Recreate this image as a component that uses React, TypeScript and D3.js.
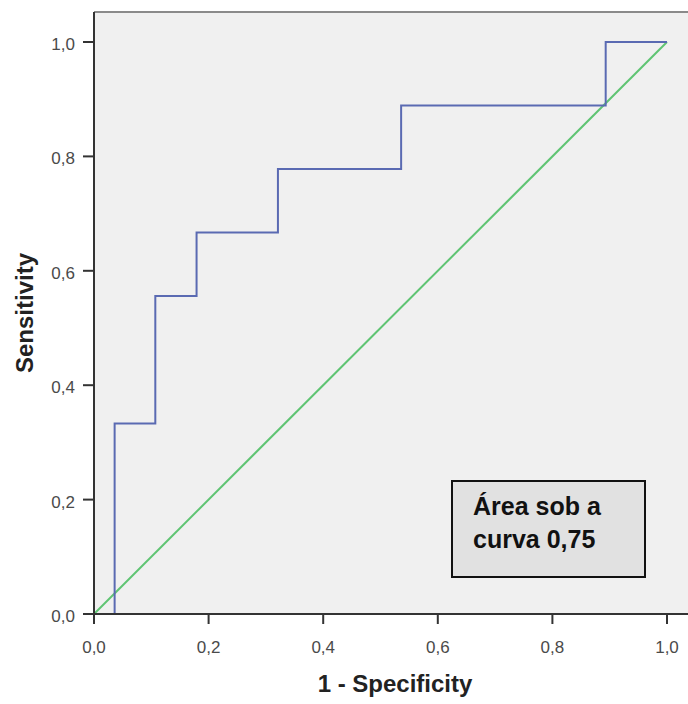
import React from 'react';
import * as d3 from 'd3';

// ROC step points (1 - specificity, sensitivity)
const fpr = [0, 0.036, 0.107, 0.179, 0.321, 0.536, 0.893, 1.0];
const tpr = [0, 0.333, 0.556, 0.667, 0.778, 0.889, 1.0, 1.0];
const ticks = [0, 0.2, 0.4, 0.6, 0.8, 1.0];
const annotation = ['Área sob a', 'curva 0,75'];

const W = 688, H = 704;
const left = 94, right = 692, top = 12, bottom = 614;

const fmt = (v: number) => v.toFixed(1).replace('.', ',');

export default function App() {
  const x = d3.scaleLinear().domain([0, 1]).range([left, 667]);
  const y = d3.scaleLinear().domain([0, 1]).range([bottom, 42]);

  const pts: [number, number][] = fpr.map((f, i) => [f, tpr[i]]);
  const roc = d3.line<[number, number]>()
    .x(d => x(d[0]))
    .y(d => y(d[1]))
    .curve(d3.curveStepAfter)(pts);
  const diag = d3.line<number>().x(d => x(d)).y(d => y(d))([0, 1]);

  const font = 'Arial, "Liberation Sans", sans-serif';

  return (
    <svg width={W} height={H} style={{ position: 'absolute', left: 0, top: 0 }} fontFamily={font}>
      <rect x={0} y={0} width={W} height={H} fill="#fff" />
      <rect x={left} y={top} width={right - left} height={bottom - top} fill="#f0f0f0" />
      <line x1={left} x2={right} y1={top} y2={top} stroke="#8a8a8a" strokeWidth={2} />

      <path d={diag ?? ''} fill="none" stroke="#5fc473" strokeWidth={2} />
      <path d={roc ?? ''} fill="none" stroke="#5a6ab2" strokeWidth={2} />

      {/* axes */}
      <line x1={left} x2={left} y1={top} y2={bottom} stroke="#333" strokeWidth={2} />
      <line x1={left} x2={right} y1={bottom} y2={bottom} stroke="#333" strokeWidth={2} />

      {ticks.map(t => (
        <g key={'y' + t}>
          <line x1={left - 11} x2={left} y1={y(t)} y2={y(t)} stroke="#333" strokeWidth={2} />
          <text x={75} y={y(t) + 2} dy="0.35em" textAnchor="end" fontSize={17} fill="#4a4a4a">{fmt(t)}</text>
        </g>
      ))}
      {ticks.map(t => (
        <g key={'x' + t}>
          <line x1={x(t)} x2={x(t)} y1={bottom} y2={bottom + 10} stroke="#333" strokeWidth={2} />
          <text x={x(t)} y={653} textAnchor="middle" fontSize={17} fill="#4a4a4a">{fmt(t)}</text>
        </g>
      ))}

      <text x={395} y={692} textAnchor="middle" fontSize={24} fontWeight="bold" fill="#222">1 - Specificity</text>
      <text transform={`translate(33,313) rotate(-90)`} textAnchor="middle" fontSize={24} fontWeight="bold" fill="#222">Sensitivity</text>

      <rect x={452} y={481} width={193} height={96} fill="#e1e1e1" stroke="#111" strokeWidth={2} />
      {annotation.map((s, i) => (
        <text key={s} x={473} y={515 + i * 33} fontSize={25} fontWeight="bold" fill="#111">{s}</text>
      ))}
    </svg>
  );
}
